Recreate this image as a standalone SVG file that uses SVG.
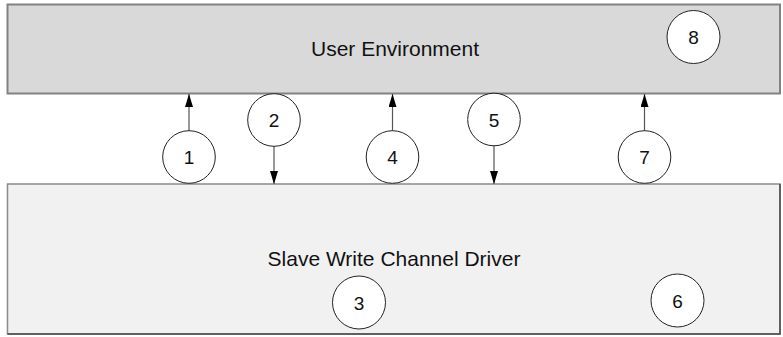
<svg xmlns="http://www.w3.org/2000/svg" width="783" height="337" viewBox="0 0 783 337">
<defs>
<style>
.lbl{font-family:"Liberation Sans",Arial,sans-serif;font-size:21px;fill:#111;text-anchor:middle}
.num{font-family:"Liberation Sans",Arial,sans-serif;font-size:19px;fill:#111;text-anchor:middle}
.c{fill:#fff;stroke:#222;stroke-width:1}
.conn{stroke:#555;stroke-width:1.2;fill:none;marker-end:url(#ah)}
</style>
<marker id="ah" viewBox="0 0 13 8" refX="13" refY="4" markerWidth="13" markerHeight="8" markerUnits="userSpaceOnUse" orient="auto">
<path d="M0,0 L13,4 L0,8 Z" fill="#000"/>
</marker>
</defs>
<rect width="783" height="337" fill="#fff"/>
<g id="user-env">
<rect x="7.5" y="4.5" width="772.5" height="89" fill="#d9d9d9" stroke="#828282" stroke-width="2"/>
<text class="lbl" x="395" y="56">User Environment</text>
</g>
<g id="driver">
<rect x="7.5" y="184" width="772.5" height="150" fill="#f1f1f1" stroke="#8a8a8a" stroke-width="1.5"/>
<path d="M780,184 V334 H7.5" fill="none" stroke="#4a4a4a" stroke-width="1.5"/>
<text class="lbl" x="394" y="266">Slave Write Channel Driver</text>
</g>
<g id="connectors">
<line class="conn" x1="189" y1="131" x2="189" y2="94"/>
<line class="conn" x1="274" y1="146" x2="274" y2="184"/>
<line class="conn" x1="392.5" y1="131" x2="392.5" y2="94"/>
<line class="conn" x1="494" y1="145.5" x2="494" y2="184"/>
<line class="conn" x1="644.5" y1="131" x2="644.5" y2="94"/>
</g>
<g id="n1"><circle class="c" cx="189" cy="157" r="26.3"/><text class="num" x="189" y="164">1</text></g>
<g id="n2"><circle class="c" cx="274" cy="120" r="26.3"/><text class="num" x="274" y="127">2</text></g>
<g id="n3"><circle class="c" cx="359" cy="302.5" r="26.5"/><text class="num" x="359" y="309.5">3</text></g>
<g id="n4"><circle class="c" cx="392.5" cy="157" r="26.3"/><text class="num" x="392.5" y="164">4</text></g>
<g id="n5"><circle class="c" cx="494" cy="119.5" r="26.3"/><text class="num" x="494" y="126.5">5</text></g>
<g id="n6"><circle class="c" cx="677.5" cy="300.5" r="26.5"/><text class="num" x="677.5" y="307.5">6</text></g>
<g id="n7"><circle class="c" cx="644.5" cy="157" r="26.3"/><text class="num" x="644.5" y="164">7</text></g>
<g id="n8"><circle class="c" cx="693.5" cy="37" r="26.5"/><text class="num" x="693.5" y="44">8</text></g>
</svg>
